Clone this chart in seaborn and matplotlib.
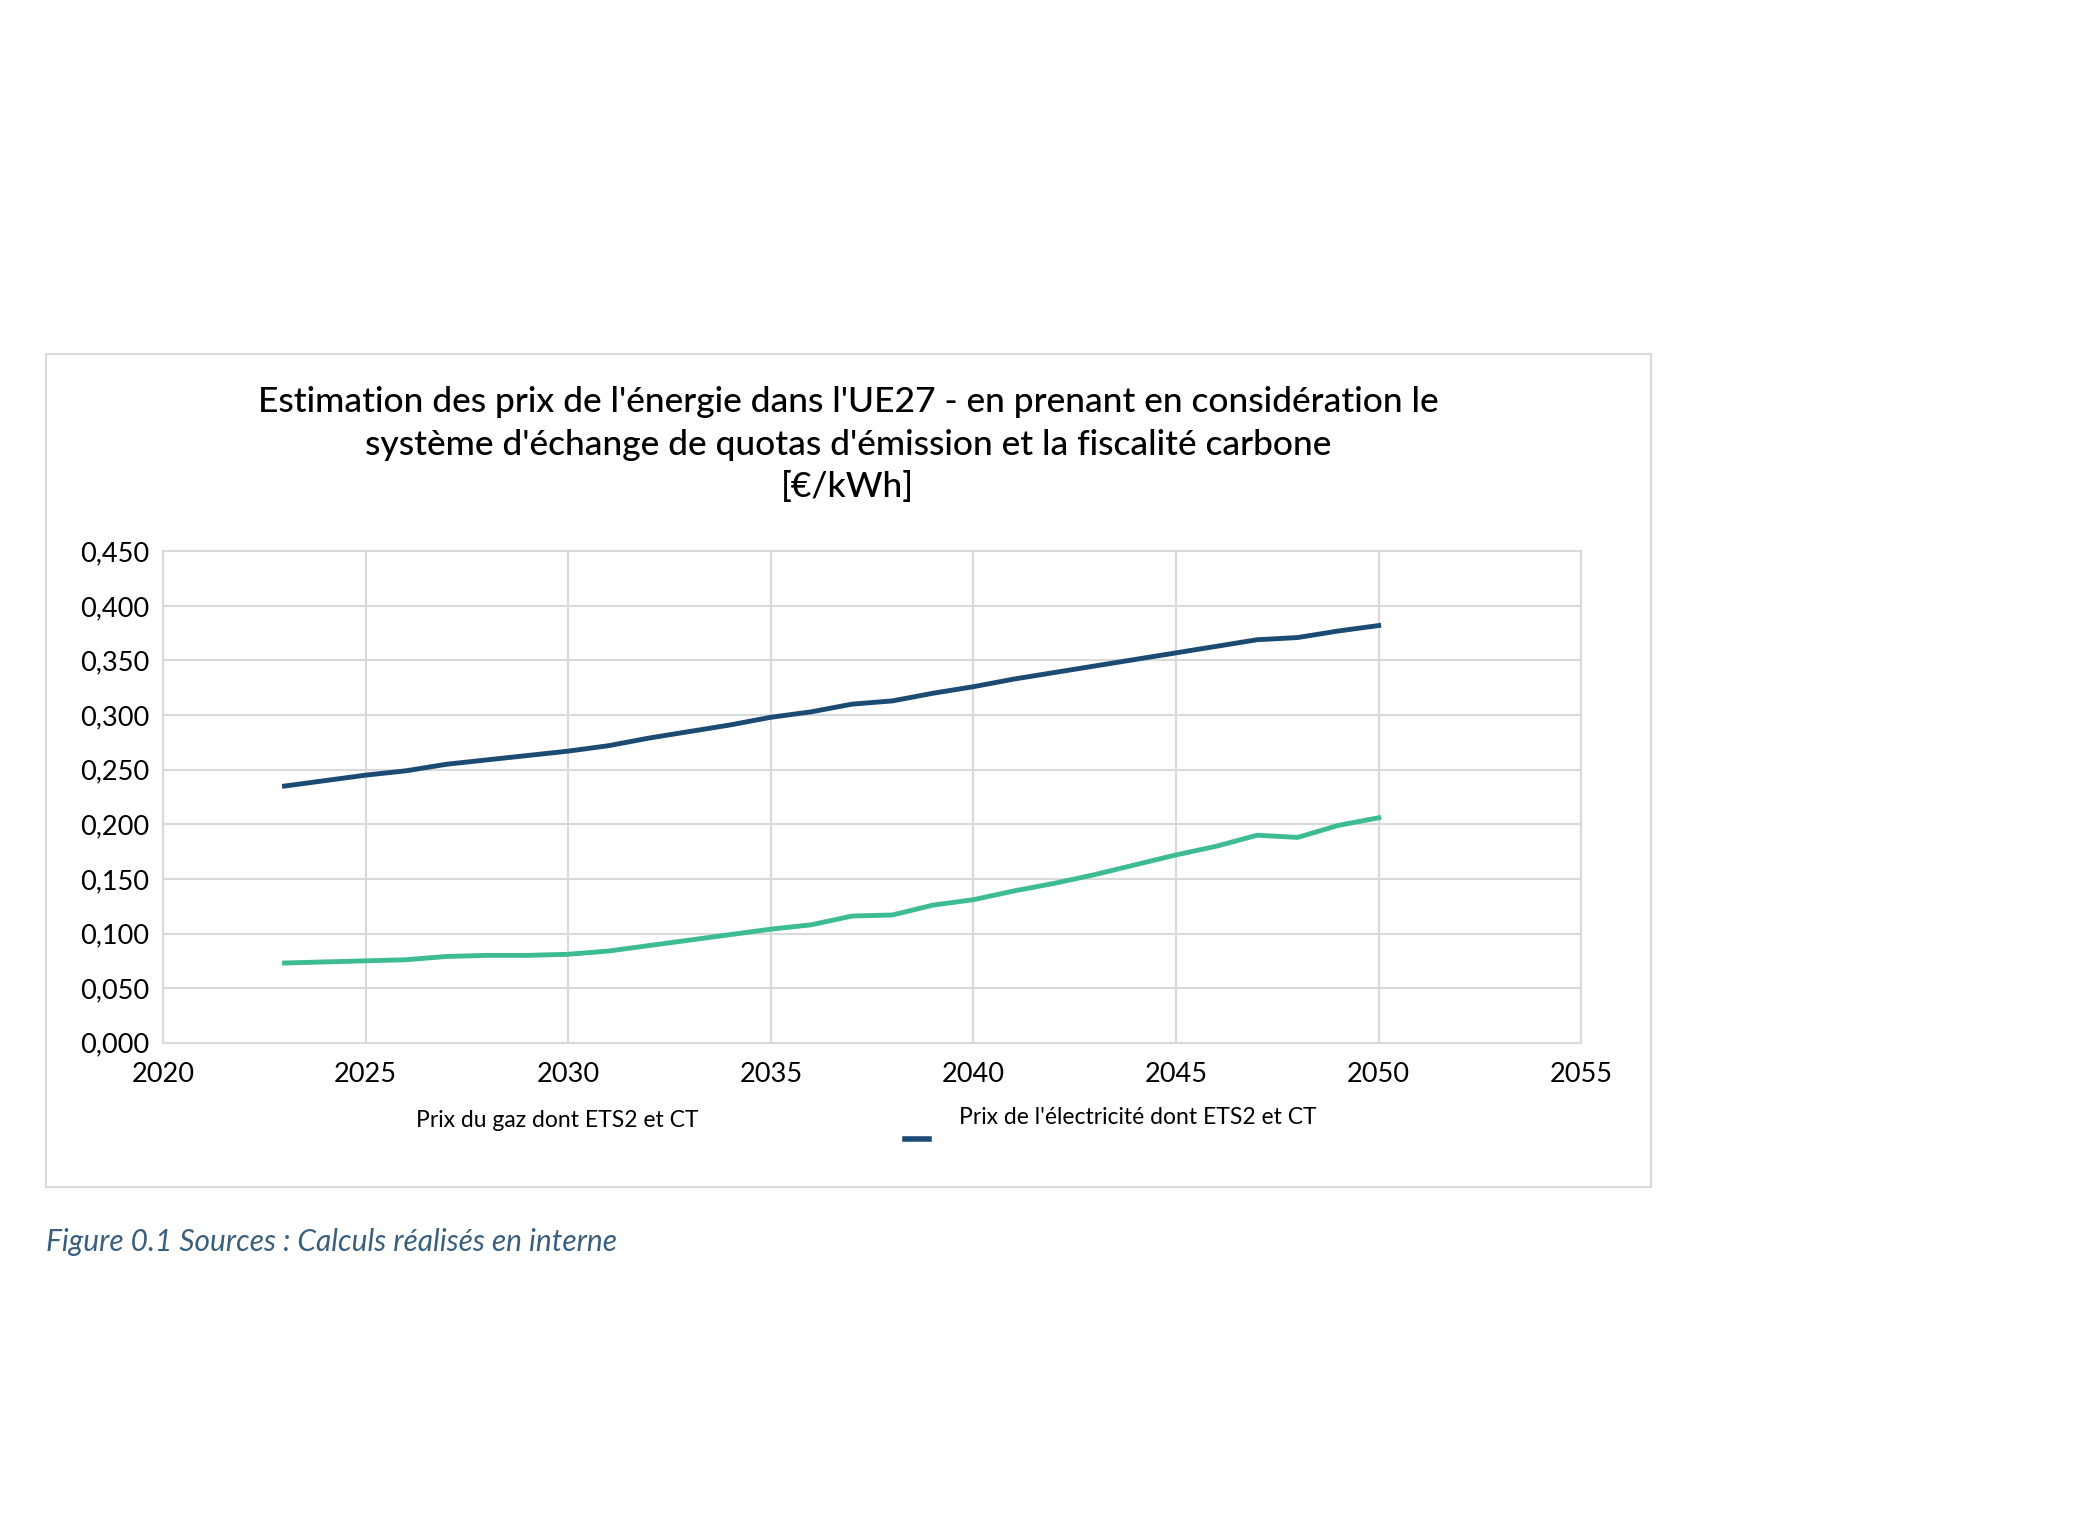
import matplotlib
matplotlib.use("Agg")
import matplotlib.pyplot as plt
import seaborn as sns
import pandas as pd
from matplotlib.patches import Rectangle
from matplotlib.lines import Line2D

years = list(range(2023, 2051))
elec = [0.235, 0.240, 0.245, 0.249, 0.255, 0.259, 0.263, 0.267, 0.272, 0.279,
        0.285, 0.291, 0.298, 0.303, 0.310, 0.313, 0.320, 0.326, 0.333, 0.339,
        0.345, 0.351, 0.357, 0.363, 0.369, 0.371, 0.377, 0.382]
gaz = [0.073, 0.074, 0.075, 0.076, 0.079, 0.080, 0.080, 0.081, 0.084, 0.089,
       0.094, 0.099, 0.104, 0.108, 0.116, 0.117, 0.126, 0.131, 0.139, 0.146,
       0.154, 0.163, 0.172, 0.180, 0.190, 0.188, 0.199, 0.206]
yticks = [0.0, 0.05, 0.1, 0.15, 0.2, 0.25, 0.3, 0.35, 0.4, 0.45]
xticks = [2020, 2025, 2030, 2035, 2040, 2045, 2050, 2055]

FONT = "Lato"
plt.rcParams["font.family"] = FONT
fig = plt.figure(figsize=(20.78, 15.33), dpi=100)
fig.patches.append(Rectangle((0.0223, 0.2256), 0.7723, 0.5436, transform=fig.transFigure,
                             fill=False, edgecolor="#d9d9d9", linewidth=1.5))
ax = fig.add_axes([0.0784, 0.3198, 0.6826, 0.3206])
df = pd.DataFrame({"year": years * 2, "val": gaz + elec,
                   "serie": ["gaz"] * len(years) + ["elec"] * len(years)})
sns.lineplot(data=df, x="year", y="val", hue="serie",
             palette={"gaz": "#3dbb93", "elec": "#1b4a72"}, linewidth=3.5,
             ax=ax, legend=False)
ax.set_xlim(2020, 2055)
ax.set_ylim(0, 0.45)
ax.set_xticks(xticks)
ax.set_yticks(yticks)
ax.set_yticklabels([f"{v:.3f}".replace(".", ",") for v in yticks])
ax.tick_params(labelsize=19.5, length=0)
ax.tick_params(axis="x", pad=14)
ax.tick_params(axis="y", pad=10)
ax.grid(True, color="#d9d9d9", linewidth=1.5)
for s in ax.spines.values():
    s.set_color("#d9d9d9"); s.set_linewidth(1.5)
ax.set_xlabel(""); ax.set_ylabel("")

tkw = dict(ha="center", va="center", fontsize=25.5, fontweight="medium")
fig.text(0.408, 0.738, "Estimation des prix de l'énergie dans l'UE27 - en prenant en considération le", **tkw)
fig.text(0.408, 0.710, "système d'échange de quotas d'émission et la fiscalité carbone", **tkw)
fig.text(0.408, 0.682, "[€/kWh]", **tkw)

fig.text(0.2, 0.269, "Prix du gaz dont ETS2 et CT", ha="left", va="center", fontsize=16.5)
fig.lines.append(Line2D([0.4356, 0.4471], [0.2567, 0.2567], transform=fig.transFigure,
                        color="#1b4a72", linewidth=4))
fig.text(0.4617, 0.271, "Prix de l'électricité dont ETS2 et CT", ha="left", va="center", fontsize=16.5)

fig.text(0.0223, 0.19, "Figure 0.1 Sources : Calculs réalisés en interne", ha="left", va="center",
         fontsize=21.5, style="italic", color="#3a5f7d")
fig.savefig("out.png", dpi=100)
